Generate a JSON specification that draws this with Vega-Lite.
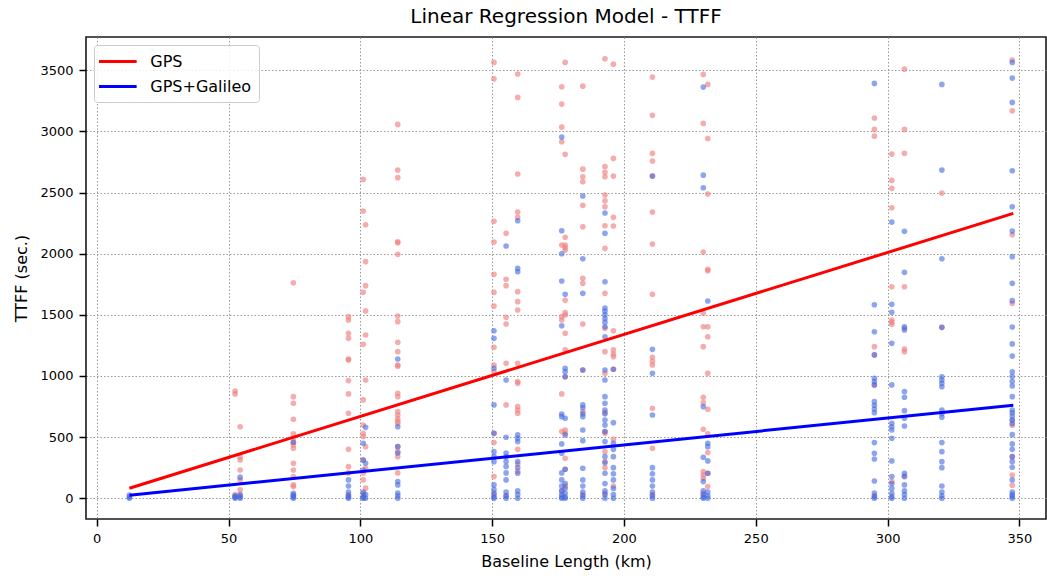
{
  "$schema": "https://vega.github.io/schema/vega-lite/v6.json",
  "autosize": "none",
  "width": 960,
  "height": 482,
  "padding": {"left": 86, "top": 37, "right": 1, "bottom": 57},
  "background": "white",
  "title": {"text": "Linear Regression Model - TTFF", "font": "DejaVu Sans", "fontSize": 20, "fontWeight": "normal", "color": "black", "anchor": "middle", "offset": 10},
  "config": {
    "view": {"stroke": "#1a1a1a", "strokeWidth": 1.6},
    "axis": {
      "labelFont": "DejaVu Sans", "labelFontSize": 13, "labelColor": "black",
      "titleFont": "DejaVu Sans", "titleFontSize": 16, "titleFontWeight": "normal", "titleColor": "black",
      "tickColor": "black", "tickSize": 7, "tickWidth": 1.5, "domain": false,
      "grid": true, "gridColor": "#999999", "gridDash": [1.5, 2], "gridWidth": 1, "labelPadding": 6
    },
    "legend": {
      "orient": "none", "legendX": 8, "legendY": 8, "padding": 7,
      "strokeColor": "#cccccc", "fillColor": "rgba(255,255,255,0.85)", "cornerRadius": 3,
      "labelFont": "DejaVu Sans", "labelFontSize": 16, "labelColor": "black",
      "symbolType": "M-2.5,0H2.5", "symbolStrokeWidth": 3, "symbolSize": 227, "symbolOffset": 7.3, "labelOffset": 23, "rowPadding": 7
    }
  },
  "datasets": {
    "gps": [
      {"km":52.5,"ttff":877},{"km":52.5,"ttff":853},{"km":52.5,"ttff":30},{"km":52.5,"ttff":10},
      {"km":54.4,"ttff":585},{"km":54.4,"ttff":335},{"km":54.4,"ttff":313},{"km":54.4,"ttff":231},{"km":54.4,"ttff":150},{"km":54.4,"ttff":68},{"km":54.4,"ttff":20},
      {"km":74.6,"ttff":1763},{"km":74.6,"ttff":831},{"km":74.6,"ttff":777},{"km":74.6,"ttff":646},{"km":74.6,"ttff":526},{"km":74.6,"ttff":490},{"km":74.6,"ttff":458},{"km":74.6,"ttff":436},{"km":74.6,"ttff":409},{"km":74.6,"ttff":286},{"km":74.6,"ttff":231},{"km":74.6,"ttff":177},{"km":74.6,"ttff":109},{"km":74.6,"ttff":95},{"km":74.6,"ttff":20},
      {"km":95.5,"ttff":1485},{"km":95.5,"ttff":1458},{"km":95.5,"ttff":1349},{"km":95.5,"ttff":1308},{"km":95.5,"ttff":1139},{"km":95.5,"ttff":1130},{"km":95.5,"ttff":962},{"km":95.5,"ttff":853},{"km":95.5,"ttff":695},{"km":95.5,"ttff":400},{"km":95.5,"ttff":258},{"km":95.5,"ttff":207},{"km":95.5,"ttff":30},
      {"km":101.1,"ttff":2608},{"km":101.1,"ttff":2349},{"km":101.1,"ttff":1684},{"km":101.1,"ttff":1259},{"km":101.1,"ttff":804},{"km":101.1,"ttff":599},{"km":101.1,"ttff":531},{"km":101.1,"ttff":504},{"km":101.1,"ttff":313},{"km":101.1,"ttff":207},{"km":101.1,"ttff":150},{"km":101.1,"ttff":40},
      {"km":102,"ttff":2237},{"km":102,"ttff":1935},{"km":102,"ttff":1739},{"km":102,"ttff":1532},{"km":102,"ttff":1335},{"km":102,"ttff":967},{"km":102,"ttff":422},{"km":102,"ttff":245},{"km":102,"ttff":82},
      {"km":114.2,"ttff":3058},{"km":114.2,"ttff":2684},{"km":114.2,"ttff":2622},{"km":114.2,"ttff":2098},{"km":114.2,"ttff":2090},{"km":114.2,"ttff":1995},{"km":114.2,"ttff":1491},{"km":114.2,"ttff":1444},{"km":114.2,"ttff":1276},{"km":114.2,"ttff":1199},{"km":114.2,"ttff":1090},{"km":114.2,"ttff":1080},{"km":114.2,"ttff":859},{"km":114.2,"ttff":831},{"km":114.2,"ttff":708},{"km":114.2,"ttff":680},{"km":114.2,"ttff":650},{"km":114.2,"ttff":630},{"km":114.2,"ttff":613},{"km":114.2,"ttff":422},{"km":114.2,"ttff":381},{"km":114.2,"ttff":340},{"km":114.2,"ttff":207},
      {"km":150.7,"ttff":3565},{"km":150.7,"ttff":3431},{"km":150.7,"ttff":2265},{"km":150.7,"ttff":2096},{"km":150.7,"ttff":1832},{"km":150.7,"ttff":1684},{"km":150.7,"ttff":1572},{"km":150.7,"ttff":1235},{"km":150.7,"ttff":1090},{"km":150.7,"ttff":1035},{"km":150.7,"ttff":531},{"km":150.7,"ttff":455},{"km":150.7,"ttff":177},{"km":150.7,"ttff":30},
      {"km":155.3,"ttff":2167},{"km":155.3,"ttff":1791},{"km":155.3,"ttff":1739},{"km":155.3,"ttff":1480},{"km":155.3,"ttff":1425},{"km":155.3,"ttff":1104},{"km":155.3,"ttff":763},{"km":155.3,"ttff":20},
      {"km":159.7,"ttff":3470},{"km":159.7,"ttff":3279},{"km":159.7,"ttff":2652},{"km":159.7,"ttff":2341},{"km":159.7,"ttff":2298},{"km":159.7,"ttff":1690},{"km":159.7,"ttff":1608},{"km":159.7,"ttff":1540},{"km":159.7,"ttff":1104},{"km":159.7,"ttff":954},{"km":159.7,"ttff":940},{"km":159.7,"ttff":749},{"km":159.7,"ttff":722},{"km":159.7,"ttff":695},{"km":159.7,"ttff":400},{"km":159.7,"ttff":280},{"km":159.7,"ttff":220},
      {"km":176.4,"ttff":3366},{"km":176.4,"ttff":3224},{"km":176.4,"ttff":3036},{"km":176.4,"ttff":2916},{"km":176.4,"ttff":2071},{"km":176.4,"ttff":1485},{"km":176.4,"ttff":1458},{"km":176.4,"ttff":853},{"km":176.4,"ttff":545},{"km":176.4,"ttff":60},
      {"km":177.7,"ttff":3565},{"km":177.7,"ttff":2813},{"km":177.7,"ttff":2134},{"km":177.7,"ttff":2071},{"km":177.7,"ttff":2050},{"km":177.7,"ttff":2030},{"km":177.7,"ttff":1619},{"km":177.7,"ttff":1518},{"km":177.7,"ttff":1499},{"km":177.7,"ttff":1349},{"km":177.7,"ttff":1213},{"km":177.7,"ttff":994},{"km":177.7,"ttff":558},{"km":177.7,"ttff":531},{"km":177.7,"ttff":327},{"km":177.7,"ttff":237},{"km":177.7,"ttff":100},
      {"km":184.4,"ttff":3371},{"km":184.4,"ttff":2692},{"km":184.4,"ttff":2630},{"km":184.4,"ttff":2589},{"km":184.4,"ttff":2396},{"km":184.4,"ttff":2221},{"km":184.4,"ttff":1799},{"km":184.4,"ttff":1758},{"km":184.4,"ttff":1425},{"km":184.4,"ttff":1049},{"km":184.4,"ttff":708},{"km":184.4,"ttff":30},
      {"km":192.8,"ttff":3595},{"km":192.8,"ttff":2712},{"km":192.8,"ttff":2666},{"km":192.8,"ttff":2630},{"km":192.8,"ttff":2480},{"km":192.8,"ttff":2433},{"km":192.8,"ttff":2384},{"km":192.8,"ttff":2229},{"km":192.8,"ttff":2044},{"km":192.8,"ttff":1676},{"km":192.8,"ttff":1390},{"km":192.8,"ttff":1199},{"km":192.8,"ttff":1022},{"km":192.8,"ttff":700},{"km":192.8,"ttff":545},{"km":192.8,"ttff":531},{"km":192.8,"ttff":381},{"km":192.8,"ttff":300},{"km":192.8,"ttff":250},{"km":192.8,"ttff":40},
      {"km":196,"ttff":3551},{"km":196,"ttff":2780},{"km":196,"ttff":2635},{"km":196,"ttff":2298},{"km":196,"ttff":2227},{"km":196,"ttff":1370},{"km":196,"ttff":1213},{"km":196,"ttff":1180},{"km":196,"ttff":1158},{"km":196,"ttff":1055},{"km":196,"ttff":482},{"km":196,"ttff":100},
      {"km":210.8,"ttff":3445},{"km":210.8,"ttff":3132},{"km":210.8,"ttff":2821},{"km":210.8,"ttff":2758},{"km":210.8,"ttff":2635},{"km":210.8,"ttff":2341},{"km":210.8,"ttff":2079},{"km":210.8,"ttff":1668},{"km":210.8,"ttff":1153},{"km":210.8,"ttff":1120},{"km":210.8,"ttff":1090},{"km":210.8,"ttff":736},{"km":210.8,"ttff":409},{"km":210.8,"ttff":30},
      {"km":230.1,"ttff":3467},{"km":230.1,"ttff":3066},{"km":230.1,"ttff":2014},{"km":230.1,"ttff":1513},{"km":230.1,"ttff":1403},{"km":230.1,"ttff":1240},{"km":230.1,"ttff":826},{"km":230.1,"ttff":782},{"km":230.1,"ttff":564},{"km":230.1,"ttff":218},{"km":230.1,"ttff":190},{"km":230.1,"ttff":164},{"km":230.1,"ttff":40},
      {"km":231.8,"ttff":3385},{"km":231.8,"ttff":2943},{"km":231.8,"ttff":2488},{"km":231.8,"ttff":1872},{"km":231.8,"ttff":1861},{"km":231.8,"ttff":1403},{"km":231.8,"ttff":1321},{"km":231.8,"ttff":1022},{"km":231.8,"ttff":728},{"km":231.8,"ttff":526},{"km":231.8,"ttff":373},{"km":231.8,"ttff":204},{"km":231.8,"ttff":95},
      {"km":295,"ttff":3110},{"km":295,"ttff":3017},{"km":295,"ttff":2962},{"km":295,"ttff":1240},{"km":295,"ttff":1172},{"km":295,"ttff":927},{"km":295,"ttff":20},
      {"km":301.6,"ttff":2815},{"km":301.6,"ttff":2600},{"km":301.6,"ttff":2535},{"km":301.6,"ttff":2376},{"km":301.6,"ttff":1730},{"km":301.6,"ttff":1458},{"km":301.6,"ttff":1440},{"km":301.6,"ttff":1423},{"km":301.6,"ttff":136},
      {"km":306.4,"ttff":3510},{"km":306.4,"ttff":3017},{"km":306.4,"ttff":2821},{"km":306.4,"ttff":1730},{"km":306.4,"ttff":1390},{"km":306.4,"ttff":1221},{"km":306.4,"ttff":1199},{"km":306.4,"ttff":180},
      {"km":320.6,"ttff":2496},{"km":320.6,"ttff":1398},
      {"km":347.3,"ttff":3584},{"km":347.3,"ttff":3169},{"km":347.3,"ttff":2155},{"km":347.3,"ttff":1594},{"km":347.3,"ttff":640},{"km":347.3,"ttff":597},{"km":347.3,"ttff":340},{"km":347.3,"ttff":190},{"km":347.3,"ttff":106}
    ],
    "gal": [
      {"km":12.4,"ttff":0},{"km":12.4,"ttff":10},{"km":12.4,"ttff":25},
      {"km":52.5,"ttff":0},{"km":52.5,"ttff":10},{"km":52.5,"ttff":20},
      {"km":54.4,"ttff":172},{"km":54.4,"ttff":30},{"km":54.4,"ttff":10},{"km":54.4,"ttff":0},
      {"km":74.6,"ttff":458},{"km":74.6,"ttff":41},{"km":74.6,"ttff":25},{"km":74.6,"ttff":10},{"km":74.6,"ttff":0},
      {"km":95.5,"ttff":150},{"km":95.5,"ttff":100},{"km":95.5,"ttff":50},{"km":95.5,"ttff":20},{"km":95.5,"ttff":10},{"km":95.5,"ttff":0},
      {"km":101.1,"ttff":450},{"km":101.1,"ttff":313},{"km":101.1,"ttff":231},{"km":101.1,"ttff":50},{"km":101.1,"ttff":20},{"km":101.1,"ttff":5},{"km":101.1,"ttff":0},
      {"km":102,"ttff":580},{"km":102,"ttff":286},{"km":102,"ttff":30},{"km":102,"ttff":0},
      {"km":114.2,"ttff":1139},{"km":114.2,"ttff":585},{"km":114.2,"ttff":422},{"km":114.2,"ttff":370},{"km":114.2,"ttff":136},{"km":114.2,"ttff":109},{"km":114.2,"ttff":43},{"km":114.2,"ttff":20},{"km":114.2,"ttff":0},
      {"km":150.7,"ttff":1370},{"km":150.7,"ttff":1308},{"km":150.7,"ttff":1063},{"km":150.7,"ttff":763},{"km":150.7,"ttff":531},{"km":150.7,"ttff":381},{"km":150.7,"ttff":340},{"km":150.7,"ttff":299},{"km":150.7,"ttff":109},{"km":150.7,"ttff":70},{"km":150.7,"ttff":40},{"km":150.7,"ttff":10},{"km":150.7,"ttff":0},
      {"km":155.3,"ttff":2063},{"km":155.3,"ttff":967},{"km":155.3,"ttff":499},{"km":155.3,"ttff":370},{"km":155.3,"ttff":340},{"km":155.3,"ttff":300},{"km":155.3,"ttff":260},{"km":155.3,"ttff":207},{"km":155.3,"ttff":150},{"km":155.3,"ttff":50},{"km":155.3,"ttff":20},{"km":155.3,"ttff":0},
      {"km":159.7,"ttff":2270},{"km":159.7,"ttff":1880},{"km":159.7,"ttff":1853},{"km":159.7,"ttff":518},{"km":159.7,"ttff":490},{"km":159.7,"ttff":463},{"km":159.7,"ttff":299},{"km":159.7,"ttff":250},{"km":159.7,"ttff":204},{"km":159.7,"ttff":60},{"km":159.7,"ttff":30},{"km":159.7,"ttff":0},
      {"km":176.4,"ttff":2954},{"km":176.4,"ttff":2188},{"km":176.4,"ttff":2000},{"km":176.4,"ttff":1777},{"km":176.4,"ttff":1411},{"km":176.4,"ttff":689},{"km":176.4,"ttff":667},{"km":176.4,"ttff":444},{"km":176.4,"ttff":368},{"km":176.4,"ttff":207},{"km":176.4,"ttff":150},{"km":176.4,"ttff":100},{"km":176.4,"ttff":60},{"km":176.4,"ttff":30},{"km":176.4,"ttff":10},{"km":176.4,"ttff":0},
      {"km":177.7,"ttff":1668},{"km":177.7,"ttff":1063},{"km":177.7,"ttff":1035},{"km":177.7,"ttff":994},{"km":177.7,"ttff":654},{"km":177.7,"ttff":518},{"km":177.7,"ttff":237},{"km":177.7,"ttff":120},{"km":177.7,"ttff":80},{"km":177.7,"ttff":40},{"km":177.7,"ttff":10},{"km":177.7,"ttff":0},
      {"km":184.4,"ttff":2472},{"km":184.4,"ttff":1959},{"km":184.4,"ttff":1676},{"km":184.4,"ttff":1049},{"km":184.4,"ttff":763},{"km":184.4,"ttff":740},{"km":184.4,"ttff":690},{"km":184.4,"ttff":667},{"km":184.4,"ttff":558},{"km":184.4,"ttff":471},{"km":184.4,"ttff":245},{"km":184.4,"ttff":150},{"km":184.4,"ttff":100},{"km":184.4,"ttff":50},{"km":184.4,"ttff":20},{"km":184.4,"ttff":0},
      {"km":192.8,"ttff":2333},{"km":192.8,"ttff":2167},{"km":192.8,"ttff":1771},{"km":192.8,"ttff":1556},{"km":192.8,"ttff":1530},{"km":192.8,"ttff":1500},{"km":192.8,"ttff":1470},{"km":192.8,"ttff":1440},{"km":192.8,"ttff":1403},{"km":192.8,"ttff":1321},{"km":192.8,"ttff":1049},{"km":192.8,"ttff":967},{"km":192.8,"ttff":831},{"km":192.8,"ttff":777},{"km":192.8,"ttff":722},{"km":192.8,"ttff":690},{"km":192.8,"ttff":640},{"km":192.8,"ttff":599},{"km":192.8,"ttff":545},{"km":192.8,"ttff":463},{"km":192.8,"ttff":340},{"km":192.8,"ttff":290},{"km":192.8,"ttff":204},{"km":192.8,"ttff":120},{"km":192.8,"ttff":60},{"km":192.8,"ttff":30},{"km":192.8,"ttff":0},
      {"km":196,"ttff":1055},{"km":196,"ttff":618},{"km":196,"ttff":450},{"km":196,"ttff":400},{"km":196,"ttff":340},{"km":196,"ttff":250},{"km":196,"ttff":200},{"km":196,"ttff":150},{"km":196,"ttff":80},{"km":196,"ttff":30},{"km":196,"ttff":0},
      {"km":210.8,"ttff":2635},{"km":210.8,"ttff":1218},{"km":210.8,"ttff":1022},{"km":210.8,"ttff":681},{"km":210.8,"ttff":250},{"km":210.8,"ttff":200},{"km":210.8,"ttff":150},{"km":210.8,"ttff":100},{"km":210.8,"ttff":50},{"km":210.8,"ttff":20},{"km":210.8,"ttff":0},
      {"km":230.1,"ttff":3363},{"km":230.1,"ttff":2643},{"km":230.1,"ttff":2540},{"km":230.1,"ttff":749},{"km":230.1,"ttff":335},{"km":230.1,"ttff":136},{"km":230.1,"ttff":60},{"km":230.1,"ttff":30},{"km":230.1,"ttff":10},{"km":230.1,"ttff":0},
      {"km":231.8,"ttff":1613},{"km":231.8,"ttff":450},{"km":231.8,"ttff":422},{"km":231.8,"ttff":305},{"km":231.8,"ttff":204},{"km":231.8,"ttff":50},{"km":231.8,"ttff":20},{"km":231.8,"ttff":0},
      {"km":295,"ttff":3393},{"km":295,"ttff":1583},{"km":295,"ttff":1362},{"km":295,"ttff":1172},{"km":295,"ttff":981},{"km":295,"ttff":954},{"km":295,"ttff":927},{"km":295,"ttff":790},{"km":295,"ttff":760},{"km":295,"ttff":730},{"km":295,"ttff":700},{"km":295,"ttff":455},{"km":295,"ttff":368},{"km":295,"ttff":321},{"km":295,"ttff":141},{"km":295,"ttff":43},{"km":295,"ttff":13},{"km":295,"ttff":0},
      {"km":301.6,"ttff":2259},{"km":301.6,"ttff":1586},{"km":301.6,"ttff":1521},{"km":301.6,"ttff":1267},{"km":301.6,"ttff":927},{"km":301.6,"ttff":613},{"km":301.6,"ttff":585},{"km":301.6,"ttff":558},{"km":301.6,"ttff":490},{"km":301.6,"ttff":305},{"km":301.6,"ttff":177},{"km":301.6,"ttff":120},{"km":301.6,"ttff":80},{"km":301.6,"ttff":40},{"km":301.6,"ttff":13},{"km":301.6,"ttff":0},
      {"km":306.4,"ttff":2183},{"km":306.4,"ttff":1848},{"km":306.4,"ttff":1403},{"km":306.4,"ttff":1376},{"km":306.4,"ttff":872},{"km":306.4,"ttff":826},{"km":306.4,"ttff":716},{"km":306.4,"ttff":654},{"km":306.4,"ttff":591},{"km":306.4,"ttff":204},{"km":306.4,"ttff":177},{"km":306.4,"ttff":109},{"km":306.4,"ttff":60},{"km":306.4,"ttff":30},{"km":306.4,"ttff":0},
      {"km":320.6,"ttff":3385},{"km":320.6,"ttff":2684},{"km":320.6,"ttff":1959},{"km":320.6,"ttff":1398},{"km":320.6,"ttff":994},{"km":320.6,"ttff":967},{"km":320.6,"ttff":940},{"km":320.6,"ttff":912},{"km":320.6,"ttff":722},{"km":320.6,"ttff":690},{"km":320.6,"ttff":662},{"km":320.6,"ttff":455},{"km":320.6,"ttff":381},{"km":320.6,"ttff":299},{"km":320.6,"ttff":250},{"km":320.6,"ttff":100},{"km":320.6,"ttff":50},{"km":320.6,"ttff":20},{"km":320.6,"ttff":0},
      {"km":347.3,"ttff":3565},{"km":347.3,"ttff":3437},{"km":347.3,"ttff":3238},{"km":347.3,"ttff":2679},{"km":347.3,"ttff":2384},{"km":347.3,"ttff":2185},{"km":347.3,"ttff":1976},{"km":347.3,"ttff":1758},{"km":347.3,"ttff":1616},{"km":347.3,"ttff":1401},{"km":347.3,"ttff":1262},{"km":347.3,"ttff":1163},{"km":347.3,"ttff":1033},{"km":347.3,"ttff":995},{"km":347.3,"ttff":955},{"km":347.3,"ttff":918},{"km":347.3,"ttff":831},{"km":347.3,"ttff":722},{"km":347.3,"ttff":699},{"km":347.3,"ttff":672},{"km":347.3,"ttff":640},{"km":347.3,"ttff":612},{"km":347.3,"ttff":520},{"km":347.3,"ttff":444},{"km":347.3,"ttff":400},{"km":347.3,"ttff":340},{"km":347.3,"ttff":299},{"km":347.3,"ttff":253},{"km":347.3,"ttff":150},{"km":347.3,"ttff":50},{"km":347.3,"ttff":30},{"km":347.3,"ttff":15},{"km":347.3,"ttff":0}
    ],
    "fits": [
      {"series":"GPS","km":12.4,"ttff":82},{"series":"GPS","km":347.7,"ttff":2330},
      {"series":"GPS+Galileo","km":12.4,"ttff":25},{"series":"GPS+Galileo","km":347.7,"ttff":760}
    ]
  },
  "encoding": {
    "x": {"field": "km", "type": "quantitative", "scale": {"domain": [-4.06, 360.1], "nice": false, "zero": false},
          "axis": {"values": [0,50,100,150,200,250,300,350], "format": "d", "title": "Baseline Length (km)", "titlePadding": 8}},
    "y": {"field": "ttff", "type": "quantitative", "scale": {"domain": [-170, 3773], "nice": false, "zero": false},
          "axis": {"values": [0,500,1000,1500,2000,2500,3000,3500], "format": "d", "title": "TTFF (sec.)", "titlePadding": 10}}
  },
  "layer": [
    {"data": {"name": "gps"}, "mark": {"type": "circle", "size": 32, "color": "#F08080", "opacity": 0.65}},
    {"data": {"name": "gal"}, "mark": {"type": "circle", "size": 32, "color": "#4169E1", "opacity": 0.6}},
    {"data": {"name": "fits"}, "mark": {"type": "line", "strokeWidth": 3},
     "encoding": {"color": {"field": "series", "type": "nominal", "scale": {"domain": ["GPS", "GPS+Galileo"], "range": ["#FF0000", "#0000FF"]}, "legend": {"title": null}}}}
  ]
}
